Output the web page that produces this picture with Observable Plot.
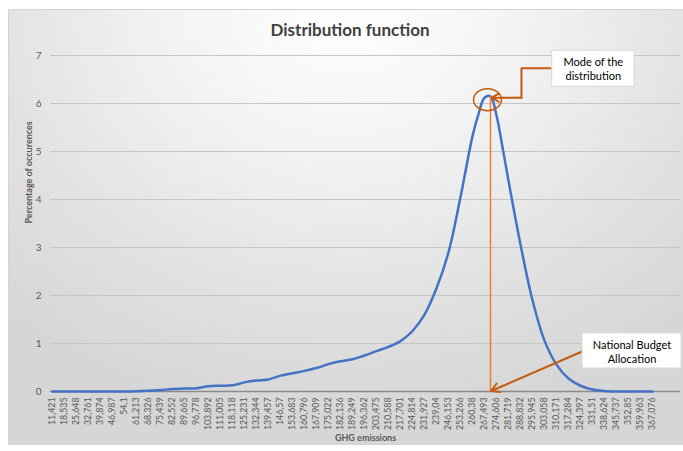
<!DOCTYPE html>
<html><head><meta charset="utf-8">
<script src="https://cdn.jsdelivr.net/npm/d3@7"></script>
<script src="https://cdn.jsdelivr.net/npm/@observablehq/plot@0.6"></script>
<style>
body{margin:0;background:#fff;width:683px;height:451px;overflow:hidden;position:relative;font-family:Lato,"Open Sans",sans-serif;}
#frame{position:absolute;left:8px;top:9px;width:676px;height:436px;box-sizing:border-box;border:1px solid #d4d4d4;
 background:radial-gradient(ellipse 75% 95% at 50% 0%, #ffffff 0%, #f3f3f3 35%, #e2e2e2 70%, #d6d6d6 100%);}
#title{position:absolute;top:19px;left:350px;transform:translateX(-50%);font-weight:bold;font-size:17px;color:#404040;white-space:nowrap;line-height:22px;}
#chart{position:absolute;left:0;top:0;}
</style></head>
<body>
<div id="frame"></div>
<div id="chart"></div>
<div id="title">Distribution function</div>
<script>
const labels = ["11,421","18,535","25,648","32,761","39,874","46,987","54,1","61,213","68,326","75,439","82,552","89,665","96,778","103,892","111,005","118,118","125,231","132,344","139,457","146,57","153,683","160,796","167,909","175,022","182,136","189,249","196,362","203,475","210,588","217,701","224,814","231,927","239,04","246,153","253,266","260,38","267,493","274,606","281,719","288,832","295,945","303,058","310,171","317,284","324,397","331,51","338,624","345,737","352,85","359,963","367,076"];
// category positions (index into labels; half steps are the unlabelled categories between labels)
const seriesPos = [0,1,2,3,4,5,6,7,8,9,10,11,12,13,14,15,16,17,18,19,20,21,22,23,24,25,26,27,28,29,30,31,32,33,34,35,35.5,36,36.5,37,37.5,38,39,40,41,42,43,44,45,46,47,48,49,50];
const seriesVal = [0,0,0,0,0,0,0,0.005,0.015,0.03,0.05,0.06,0.07,0.11,0.12,0.13,0.19,0.23,0.25,0.33,0.38,0.43,0.49,0.57,0.63,0.67,0.75,0.84,0.93,1.05,1.26,1.6,2.15,2.9,4.05,5.32,5.78,6.12,6.15,5.75,5.09,4.39,3.06,1.9,1.06,0.56,0.27,0.12,0.04,0.01,0,0,0,0];
const yTicks = [0,1,2,3,4,5,6,7];
const modePos = 36.5, modeVal = 6.15;
const modeText = "Mode of the\ndistribution";
const nbaText = "National Budget\nAllocation";

const points = seriesPos.map((p, i) => ({pos: p, val: seriesVal[i]}));

const ellipse = {draw(ctx, size){ const r = Math.sqrt(size/Math.PI), rx = r*1.27, ry = r, k = 0.5523;
  ctx.moveTo(rx,0);
  ctx.bezierCurveTo(rx, ry*k, rx*k, ry, 0, ry);
  ctx.bezierCurveTo(-rx*k, ry, -rx, ry*k, -rx, 0);
  ctx.bezierCurveTo(-rx, -ry*k, -rx*k, -ry, 0, -ry);
  ctx.bezierCurveTo(rx*k, -ry, rx, -ry*k, rx, 0);
  ctx.closePath(); }};

const dark = "#c55a11", light = "#ed7d31";

const plot = Plot.plot({
  width: 683, height: 451,
  marginLeft: 50, marginRight: 3, marginTop: 55, marginBottom: 60,
  style: {background: "transparent", fontFamily: "Lato, 'Open Sans', sans-serif", overflow: "visible"},
  x: {type: "linear", domain: [-1/6, 52.333], axis: null},
  y: {domain: [0, 7], axis: null},
  marks: [
    Plot.ruleY(yTicks.filter(d => d > 0), {stroke: "#c6c6c6", strokeWidth: 1}),
    Plot.axisY(yTicks, {tickSize: 0, tickPadding: 9, fontSize: 10, color: "#595959", label: null}),
    Plot.axisX(d3.range(labels.length), {tickFormat: i => labels[i], tickRotate: -90, tickSize: 0, tickPadding: 6, fontSize: 8.8, color: "#595959", label: null}),
    Plot.ruleY([0], {stroke: "#8a8a8a", strokeWidth: 1.5}),
    Plot.line(points, {x: "pos", y: "val", stroke: "#4472c4", strokeWidth: 2.5, curve: "catmull-rom"}),
    // mode marker
    Plot.ruleX([modePos], {y1: 0, y2: modeVal, stroke: light, strokeWidth: 1.5}),
    Plot.dot([{x: 36.25, y: 6.08}], {x: "x", y: "y", r: 11, symbol: ellipse, stroke: dark, fill: "none", strokeWidth: 1.5}),
    Plot.line([{x: 41.64, y: 6.735}, {x: 39.08, y: 6.735}, {x: 39.08, y: 6.12}], {x: "x", y: "y", stroke: dark, strokeWidth: 2}),
    Plot.arrow([{x1: 39.08, y1: 6.12, x2: 36.6, y2: 6.12}], {x1: "x1", y1: "y1", x2: "x2", y2: "y2", stroke: dark, strokeWidth: 2, headLength: 6, insetEnd: 0}),
    Plot.rect([{x1: 41.64, x2: 48.5, y1: 6.35, y2: 7.1}], {x1: "x1", x2: "x2", y1: "y1", y2: "y2", fill: "#ffffff", stroke: "#d9d9d9", strokeWidth: 1}),
    Plot.text([modeText], {x: 45.07, y: 6.73, text: d => d, fontSize: 11, fill: "#000", lineHeight: 1.27}),
    // national budget allocation
    Plot.arrow([{x1: 44.14, y1: 0.833, x2: modePos + 0.05, y2: 0.01}], {x1: "x1", y1: "y1", x2: "x2", y2: "y2", stroke: dark, strokeWidth: 2, headLength: 7, insetEnd: 0}),
    Plot.rect([{x1: 44.17, x2: 52.42, y1: 0.48, y2: 1.21}], {x1: "x1", x2: "x2", y1: "y1", y2: "y2", fill: "#ffffff", stroke: "#d9d9d9", strokeWidth: 1}),
    Plot.text([nbaText], {x: 48.29, y: 0.84, text: d => d, fontSize: 11, fill: "#000", lineHeight: 1.27}),
    // axis titles
    Plot.text(["Percentage of occurences"], {frameAnchor: "left", rotate: -90, dx: -21, text: d => d, fontSize: 9, fontWeight: "bold", fill: "#595959"}),
    Plot.text(["GHG emissions"], {frameAnchor: "bottom", dy: 49, text: d => d, fontSize: 9, fontWeight: "bold", fill: "#595959"})
  ]
});
document.getElementById("chart").appendChild(plot);
</script>
</body></html>
